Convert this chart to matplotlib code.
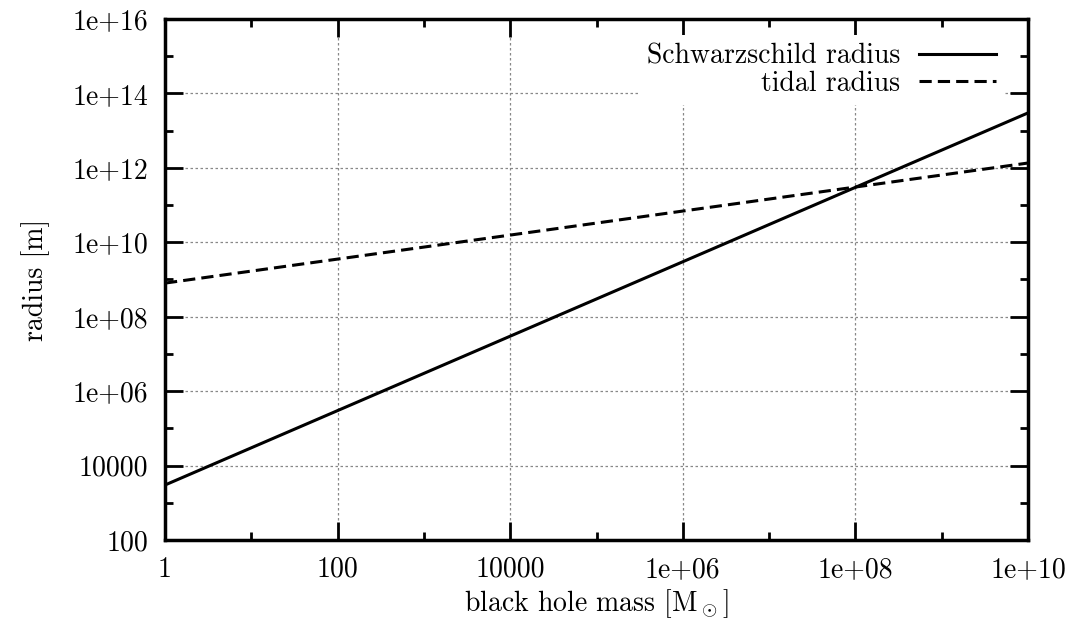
import numpy as np
import matplotlib
matplotlib.use('Agg')
import matplotlib.pyplot as plt
from matplotlib.ticker import FixedLocator, FuncFormatter

# ### Definitions: plotting parameters
figure_size = (10.75, 6.3)
dots_per_inch = 100

plt.rcParams['font.family'] = 'serif'
plt.rcParams['font.serif'] = ['cmr10', 'DejaVu Serif']
plt.rcParams['mathtext.fontset'] = 'cm'
plt.rcParams['axes.formatter.use_mathtext'] = True

# ### Data (straight lines in log-log)
mass = [1.0, 1e10]                      # black hole mass, solar masses
r_schwarzschild = [3.0e3, 3.0e13]       # m
r_tidal = [8.0e8, 1.35e12]              # m

x_major = [1, 1e2, 1e4, 1e6, 1e8, 1e10]
x_minor = [1e1, 1e3, 1e5, 1e7, 1e9]
y_major = [1e2, 1e4, 1e6, 1e8, 1e10, 1e12, 1e14, 1e16]
y_minor = [1e3, 1e5, 1e7, 1e9, 1e11, 1e13, 1e15]


def gnuplot_label(v, pos):
    if v < 1e5:
        return '%d' % v
    return '1e+%02d' % int(round(np.log10(v)))


figure = plt.figure(figsize=figure_size)
ax = figure.add_axes([0.1535, 0.1429, 0.8028, 0.8269])

ax.plot(mass, r_schwarzschild, color='black', linewidth=2.2, label='Schwarzschild radius', zorder=3)
ax.plot(mass, r_tidal, color='black', linewidth=2.2, linestyle=(0, (4, 2)), label='tidal radius', zorder=3)

ax.set_xscale('log')
ax.set_yscale('log')
ax.set_xlim(1, 1e10)
ax.set_ylim(1e2, 1e16)

ax.xaxis.set_major_locator(FixedLocator(x_major))
ax.xaxis.set_minor_locator(FixedLocator(x_minor))
ax.yaxis.set_major_locator(FixedLocator(y_major))
ax.yaxis.set_minor_locator(FixedLocator(y_minor))
ax.xaxis.set_major_formatter(FuncFormatter(gnuplot_label))
ax.yaxis.set_major_formatter(FuncFormatter(gnuplot_label))
ax.xaxis.set_minor_formatter(FuncFormatter(lambda v, p: ''))
ax.yaxis.set_minor_formatter(FuncFormatter(lambda v, p: ''))

ax.tick_params(which='both', direction='in', top=True, right=True, width=2.0, labelsize=20)
ax.tick_params(which='major', length=13)
ax.tick_params(which='minor', length=6)
ax.tick_params(axis='y', which='major', pad=12)
ax.tick_params(axis='x', which='major', pad=12)
for s in ax.spines.values():
    s.set_linewidth(2.5)

ax.grid(True, which='major', color='#888888', linestyle=(0, (2, 2)), linewidth=0.9)

ax.set_xlabel(r'black hole mass [$\mathrm{M}_\odot$]', fontsize=20, labelpad=3)
ax.set_ylabel('radius [m]', fontsize=20, labelpad=16)

leg = ax.legend(loc='upper right', bbox_to_anchor=(0.973, 0.970), fontsize=20, markerfirst=False,
                frameon=True, framealpha=1.0, edgecolor='none', fancybox=False,
                handlelength=2.8, handletextpad=0.65, labelspacing=0.05, borderpad=0.3,
                borderaxespad=0.0)
leg.set_zorder(1.7)

figure.savefig('out.png', dpi=dots_per_inch)
